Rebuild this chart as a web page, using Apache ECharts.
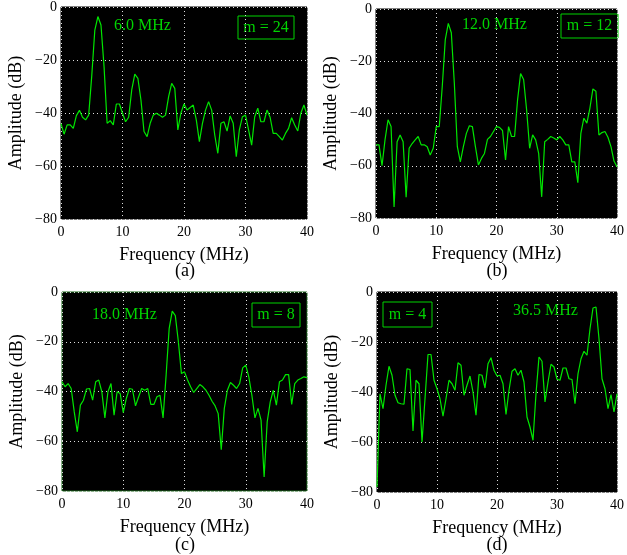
<!DOCTYPE html>
<html><head><meta charset="utf-8">
<script src="https://cdn.jsdelivr.net/npm/echarts@6/dist/echarts.min.js"></script>
<style>html,body{margin:0;padding:0;background:#fff}#c{width:627px;height:555px}</style>
</head><body><div id="c"></div>
<script>
const freq = [0,0.5,1,1.5,2,2.5,3,3.5,4,4.5,5,5.5,6,6.5,7,7.5,8,8.5,9,9.5,10,10.5,11,11.5,12,12.5,13,13.5,14,14.5,15,15.5,16,16.5,17,17.5,18,18.5,19,19.5,20,20.5,21,21.5,22,22.5,23,23.5,24,24.5,25,25.5,26,26.5,27,27.5,28,28.5,29,29.5,30,30.5,31,31.5,32,32.5,33,33.5,34,34.5,35,35.5,36,36.5,37,37.5,38,38.5,39,39.5,40];
const ampA = [-44,-48,-44.5,-44.5,-45.8,-41,-39,-41.6,-42.6,-40.8,-26,-8.7,-3.6,-6.8,-22.5,-43.9,-42.9,-44.5,-36.6,-36.6,-40.1,-43.3,-41.6,-31.3,-25.3,-26.9,-35.1,-47,-48.9,-43.9,-40.8,-40.1,-40.8,-41.6,-40.8,-33.8,-28.8,-30.7,-46.4,-40,-36.6,-38.9,-37.9,-37,-42.6,-50.8,-43.9,-38.9,-35.7,-38.9,-48.3,-55.2,-43.9,-43.3,-46.8,-41.1,-43.9,-56.5,-46.4,-41.4,-40.8,-46.4,-52.1,-41.4,-38.2,-43.3,-43.3,-38.9,-41.6,-47.7,-47.7,-48.9,-50.2,-47.7,-45.8,-41.8,-44.5,-46.8,-40.1,-37,-40.8];
const ampB = [-52,-52,-60,-50,-42.4,-45,-75.8,-50.8,-48.2,-50.8,-72,-53.3,-51.5,-50.1,-48.8,-52,-52,-52.7,-55.9,-53.3,-45,-45,-29.6,-11.7,-5.5,-9.1,-28.3,-52.7,-58.5,-52.7,-47.6,-44.7,-45,-52.7,-59.7,-57.2,-55.3,-49.9,-48.8,-46.9,-45,-45.3,-46.5,-57.8,-45,-48.8,-48.8,-34.7,-24.7,-27,-38.6,-53.3,-48.2,-50.1,-55.3,-71.9,-50.8,-49.9,-48.8,-49.4,-50.1,-48.8,-50.1,-52,-52,-58.5,-58.5,-66.5,-47.6,-41.8,-43.7,-38,-30.6,-31.5,-48.2,-47.3,-46.9,-49.1,-52.7,-58.2,-60.4];
const ampC = [-36.1,-38.1,-36.8,-38.8,-48.2,-56.2,-45.5,-43.5,-39,-38.8,-43.5,-36.1,-35.4,-40.1,-50.6,-40.1,-36.8,-49.5,-40.1,-40.8,-48.5,-42.8,-38.8,-39.1,-45.8,-42.2,-38.8,-39.5,-38.8,-45.2,-45.2,-42.1,-41.5,-50.6,-33.4,-14.6,-7.7,-9.5,-20,-32.8,-32.1,-35.4,-38.1,-40.4,-38.8,-37.2,-38.1,-39.5,-41.5,-43.9,-45.8,-48.9,-63.4,-46.8,-39.5,-36.4,-37.5,-38.8,-36.8,-30.5,-29.4,-34.1,-41.5,-50.6,-46.8,-51.5,-74.4,-52.2,-44.2,-39.5,-45.5,-36.1,-35.4,-33.2,-33.2,-45.2,-36.8,-35.4,-34.8,-34.1,-34.4];
const ampD = [-78,-40.7,-46.7,-37.3,-29.7,-33.3,-41.3,-44.3,-44.7,-44.9,-30.7,-31,-55.6,-35.3,-36.7,-60,-42.7,-25,-25,-35.3,-38.7,-42.7,-49.7,-42.7,-35.3,-36.7,-39.3,-28.3,-29.3,-41.3,-37.3,-33.6,-40,-49.3,-33,-33.3,-38.4,-28.7,-26.3,-31.3,-33.6,-33.3,-36.7,-49,-39.3,-31.7,-30.7,-33.3,-31.3,-36,-50,-54,-59.3,-40.7,-26,-27.7,-44,-36,-28.9,-30,-34.9,-35.3,-30.4,-30.4,-34.7,-35,-44.7,-32.7,-26.7,-23.7,-25.3,-14.7,-6.4,-6,-18.7,-34.7,-38.7,-46.7,-41,-48,-40.7];
const xTicks = [0,10,20,30,40];
const yTicks = [-80,-60,-40,-20,0];
const peakLabels = ['6.0 MHz','12.0 MHz','18.0 MHz','36.5 MHz'];
const mLabels = ['m = 24','m = 12','m = 8','m = 4'];
const captions = ['(a)','(b)','(c)','(d)'];
const series = [ampA, ampB, ampC, ampD];

const FONT = '"Liberation Serif","DejaVu Serif",serif';
const GREEN = '#00e600';
const TXT = '#00d400';
const grids = [
  {left:61, top:7, width:246, height:212},
  {left:376, top:9, width:246, height:209},
  {left:62, top:292, width:245, height:199},
  {left:377, top:292, width:245, height:200}
];
const borders = ['#000','#000','#1f6b1f','#000'];

const option = {animation:false, grid:[], xAxis:[], yAxis:[], series:[], graphic:[]};
grids.forEach((g,i)=>{
  option.grid.push(Object.assign({show:true, backgroundColor:'#000', borderColor:borders[i], borderWidth:1}, g));
  option.xAxis.push({type:'value', gridIndex:i, min:xTicks[0], max:xTicks[xTicks.length-1], interval:10,
    name:'Frequency (MHz)', nameLocation:'middle', nameGap:27,
    nameTextStyle:{fontFamily:FONT, fontSize:18, color:'#000'},
    axisLine:{show:false}, axisTick:{show:false},
    axisLabel:{fontFamily:FONT, fontSize:14, color:'#000', margin:6},
    splitLine:{show:true, lineStyle:{color:'#ddd', type:[1,3], width:1}}});
  option.yAxis.push({type:'value', gridIndex:i, min:yTicks[0], max:yTicks[yTicks.length-1], interval:20,
    name:'Amplitude (dB)', nameLocation:'middle', nameGap:36,
    nameTextStyle:{fontFamily:FONT, fontSize:18, color:'#000'},
    axisLine:{show:false}, axisTick:{show:false},
    axisLabel:{fontFamily:FONT, fontSize:14, color:'#000', margin:4, formatter:v=>String(v).replace('-','\u2212')},
    splitLine:{show:true, lineStyle:{color:'#ddd', type:[1,3], width:1}}});
  option.series.push({type:'line', xAxisIndex:i, yAxisIndex:i, showSymbol:false, symbol:'none',
    data:freq.map((f,k)=>[f, series[i][k]]), lineStyle:{color:GREEN, width:1.2}, clip:true});
});
// annotations
const peakPos = [[114,27],[462,26],[92,316],[513,312]];
const boxPos = [[238,16,56,23],[561,14,57,24],[252,303,48,24],[383,302,49,25]];
peakPos.forEach((p,i)=>{
  option.graphic.push({type:'text', left:p[0], top:p[1]-9, style:{text:peakLabels[i], font:'16px '+FONT, fill:TXT}});
  const b = boxPos[i];
  option.graphic.push({type:'rect', shape:{x:b[0], y:b[1], width:b[2], height:b[3]}, style:{fill:'none', stroke:TXT, lineWidth:1}});
  option.graphic.push({type:'text', x:b[0]+b[2]/2, y:b[1]+b[3]/2, style:{text:mLabels[i], font:'16px '+FONT, fill:TXT, align:'center', verticalAlign:'middle'}});
});
const capPos = [[185,271],[497,271],[185,545],[497,545]];
capPos.forEach((p,i)=>{
  option.graphic.push({type:'text', x:p[0], y:p[1], style:{text:captions[i], font:'18px '+FONT, fill:'#000', align:'center', verticalAlign:'middle'}});
});
echarts.init(document.getElementById('c')).setOption(option);
</script></body></html>
